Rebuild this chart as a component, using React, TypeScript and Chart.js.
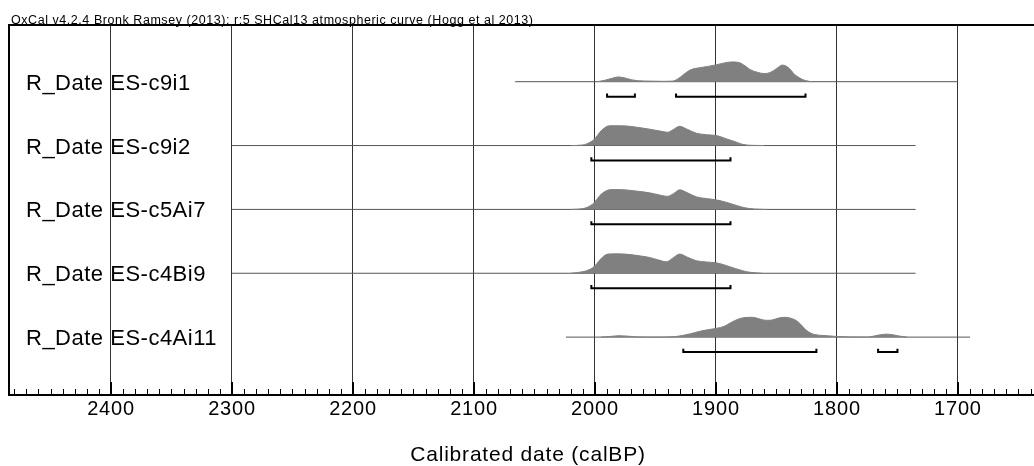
import React, { useEffect, useRef } from 'react';
import { Chart, registerables } from 'chart.js';

Chart.register(...registerables);

const CHART_TITLE = 'OxCal v4.2.4 Bronk Ramsey (2013); r:5 SHCal13 atmospheric curve (Hogg et al 2013)';
const AXIS_TITLE = 'Calibrated date (calBP)';
const SAMPLES = ['R_Date ES-c9i1', 'R_Date ES-c9i2', 'R_Date ES-c5Ai7', 'R_Date ES-c4Bi9', 'R_Date ES-c4Ai11'];
const X_TICKS = [2400, 2300, 2200, 2100, 2000, 1900, 1800, 1700];
const X_MIN = 1626.4;
const X_MAX = 2484.3;

// span of each likelihood baseline (calBP, from -> to)
const SPAN_C9I1 = [2066, 1700];
const SPAN_C9I2 = [2300, 1735];
const SPAN_C5AI7 = [2300, 1735];
const SPAN_C4BI9 = [2300, 1735];
const SPAN_C4AI11 = [2024, 1690];

// relative probability distributions
const DATES_C9I1 = [1998, 1992, 1986, 1981, 1976, 1970, 1964, 1955, 1945, 1936, 1932, 1927, 1921, 1914, 1907, 1900, 1893, 1887, 1881, 1876, 1872, 1866, 1860, 1855, 1850, 1845, 1841, 1838, 1835, 1831, 1828, 1824, 1820];
const PROB_C9I1 = [0, 0.07, 0.17, 0.24, 0.2, 0.1, 0.05, 0.03, 0.02, 0.03, 0.12, 0.35, 0.6, 0.7, 0.77, 0.85, 0.95, 1.0, 0.97, 0.8, 0.62, 0.48, 0.41, 0.47, 0.66, 0.84, 0.75, 0.58, 0.36, 0.2, 0.1, 0.03, 0];

const DATES_C9I2 = [2020, 2010, 2004, 2000, 1996, 1992, 1988, 1980, 1974, 1965, 1955, 1946, 1940, 1936, 1930, 1924, 1916, 1908, 1899, 1891, 1883, 1878, 1870, 1860];
const PROB_C9I2 = [0, 0.03, 0.17, 0.35, 0.67, 0.9, 1.0, 1.0, 0.99, 0.92, 0.83, 0.73, 0.67, 0.78, 0.97, 0.83, 0.62, 0.55, 0.5, 0.33, 0.17, 0.06, 0.01, 0];

const DATES_C5AI7 = [2020, 2010, 2004, 2000, 1996, 1991, 1987, 1979, 1972, 1962, 1955, 1946, 1940, 1935, 1930, 1924, 1916, 1908, 1899, 1891, 1883, 1876, 1868, 1858];
const PROB_C5AI7 = [0, 0.04, 0.18, 0.38, 0.7, 0.93, 1.0, 1.0, 0.97, 0.9, 0.84, 0.72, 0.66, 0.8, 0.99, 0.85, 0.63, 0.55, 0.47, 0.35, 0.2, 0.08, 0.02, 0];

const DATES_C4BI9 = [2020, 2010, 2004, 2000, 1994, 1989, 1980, 1969, 1962, 1955, 1948, 1941, 1936, 1930, 1924, 1916, 1908, 1899, 1891, 1884, 1878, 1872, 1862];
const PROB_C4BI9 = [0, 0.08, 0.2, 0.38, 0.8, 0.97, 0.98, 0.93, 0.87, 0.8, 0.68, 0.58, 0.75, 0.97, 0.82, 0.63, 0.57, 0.52, 0.38, 0.24, 0.13, 0.05, 0];

const DATES_C4AI11 = [1995, 1988, 1980, 1973, 1965, 1950, 1935, 1928, 1921, 1913, 1906, 1899, 1893, 1888, 1882, 1876, 1870, 1864, 1859, 1854, 1849, 1844, 1839, 1834, 1830, 1826, 1821, 1815, 1808, 1800, 1790, 1775, 1769, 1764, 1759, 1754, 1748, 1742];
const PROB_C4AI11 = [0, 0.03, 0.07, 0.05, 0.01, 0, 0.02, 0.08, 0.17, 0.3, 0.38, 0.45, 0.55, 0.72, 0.9, 0.99, 1.0, 0.92, 0.85, 0.86, 0.95, 1.0, 0.97, 0.85, 0.65, 0.38, 0.18, 0.1, 0.07, 0.03, 0.01, 0, 0.06, 0.12, 0.15, 0.12, 0.05, 0];

// 95.4% highest posterior density ranges (calBP)
const RANGES_C9I1 = [[1990, 1967], [1933, 1826]];
const RANGES_C9I2 = [[2003, 1888]];
const RANGES_C5AI7 = [[2003, 1888]];
const RANGES_C4BI9 = [[2003, 1888]];
const RANGES_C4AI11 = [[1927, 1817], [1766, 1750]];

const ROWS = [
  { span: SPAN_C9I1, dates: DATES_C9I1, prob: PROB_C9I1, ranges: RANGES_C9I1 },
  { span: SPAN_C9I2, dates: DATES_C9I2, prob: PROB_C9I2, ranges: RANGES_C9I2 },
  { span: SPAN_C5AI7, dates: DATES_C5AI7, prob: PROB_C5AI7, ranges: RANGES_C5AI7 },
  { span: SPAN_C4BI9, dates: DATES_C4BI9, prob: PROB_C4BI9, ranges: RANGES_C4BI9 },
  { span: SPAN_C4AI11, dates: DATES_C4AI11, prob: PROB_C4AI11, ranges: RANGES_C4AI11 },
];

// vertical layout in row units
const Y_MIN = -0.888;
const Y_MAX = 4.9065;
const PEAK_H = 0.31;
const RANGE_OFF = 0.234;
const RANGE_TICK = 0.05;
// the plot frame continues past the right edge of the picture
const RIGHT_OVERHANG = 14;

const FONT = '"Liberation Sans", Arial, Helvetica, sans-serif';

const decorPlugin = {
  id: 'oxcalDecor',
  afterLayout(chart: any) {
    const x = chart.scales.x;
    x.right += RIGHT_OVERHANG;
    x.width += RIGHT_OVERHANG;
    chart.chartArea.right += RIGHT_OVERHANG;
    chart.chartArea.width += RIGHT_OVERHANG;
    x.configure();
    x._labelItems = null;
    x._gridLineItems = null;
  },
  beforeDraw(chart: any) {
    (chart.ctx as any).letterSpacing = '0.8px';
  },
  afterDatasetsDraw(chart: any) {
    const { ctx, chartArea, scales } = chart;
    const { left, right, top, bottom } = chartArea;
    const x = scales.x;
    const y = scales.y;
    ctx.save();
    ctx.strokeStyle = '#000';
    for (let v = Math.ceil(X_MIN / 10) * 10; v <= X_MAX; v += 10) {
      const major = v % 100 === 0;
      const px = Math.round(x.getPixelForValue(v)) + (major ? 0 : 0.5);
      ctx.lineWidth = major ? 2 : 1;
      ctx.beginPath();
      ctx.moveTo(px, bottom);
      ctx.lineTo(px, bottom - (major ? 13 : 6));
      ctx.stroke();
    }
    ctx.lineWidth = 2;
    ctx.strokeRect(left, top, right - left, bottom - top);
    ctx.fillStyle = '#000';
    ctx.textAlign = 'left';
    ctx.textBaseline = 'alphabetic';
    (ctx as any).letterSpacing = '0.5px';
    ctx.font = '22px ' + FONT;
    SAMPLES.forEach((name, r) => {
      ctx.fillText(name, left + 17, y.getPixelForValue(r) + 8);
    });
    (ctx as any).letterSpacing = '0.55px';
    ctx.font = '12.5px ' + FONT;
    ctx.fillText(CHART_TITLE, left + 2, top - 1.5);
    ctx.restore();
  },
  afterDraw(chart: any) {
    (chart.ctx as any).letterSpacing = '0px';
  },
};

function buildDatasets() {
  const ranges: any[] = [];
  const curves: any[] = [];
  const bases: any[] = [];
  ROWS.forEach((row, r) => {
    row.ranges.forEach(([a, b]) => {
      const yb = r + RANGE_OFF;
      ranges.push({
        data: [
          { x: a, y: yb - RANGE_TICK },
          { x: a, y: yb },
          { x: b, y: yb },
          { x: b, y: yb - RANGE_TICK },
        ],
        borderColor: '#000',
        borderWidth: 2,
        pointRadius: 0,
        fill: false,
        tension: 0,
      });
    });
    curves.push({
      data: row.dates.map((d, i) => ({ x: d, y: r - row.prob[i] * PEAK_H })),
      borderColor: '#808080',
      backgroundColor: '#808080',
      borderWidth: 1,
      pointRadius: 0,
      fill: { value: r },
      cubicInterpolationMode: 'monotone',
    });
    bases.push({
      data: [
        { x: row.span[0], y: r },
        { x: row.span[1], y: r },
      ],
      borderColor: '#555',
      borderWidth: 1,
      pointRadius: 0,
      fill: false,
    });
  });
  return [...ranges, ...curves, ...bases];
}

export default function App() {
  const ref = useRef<HTMLCanvasElement>(null);
  useEffect(() => {
    document.body.style.margin = '0';
    Chart.defaults.font.family = FONT;
    const chart = new Chart(ref.current as HTMLCanvasElement, {
      type: 'line',
      data: { datasets: buildDatasets() },
      options: {
        animation: false,
        responsive: false,
        devicePixelRatio: 1,
        layout: { padding: { left: 9, right: 1, top: 25, bottom: 0 } },
        plugins: {
          legend: { display: false },
          tooltip: { enabled: false },
          title: { display: false },
        },
        scales: {
          x: {
            type: 'linear',
            reverse: true,
            min: X_MIN,
            max: X_MAX,
            afterBuildTicks: (s: any) => {
              s.ticks = X_TICKS.map((v) => ({ value: v }));
            },
            ticks: {
              color: '#000',
              font: { size: 20 },
              padding: 2,
              maxRotation: 0,
              autoSkip: false,
              callback: (v: any) => String(v),
            },
            grid: { color: '#333', lineWidth: 1, drawTicks: false },
            border: { display: false },
            title: {
              display: true,
              text: AXIS_TITLE,
              color: '#000',
              font: { size: 21, lineHeight: 1 },
              padding: { top: 22, bottom: 0 },
            },
          },
          y: {
            type: 'linear',
            display: false,
            min: Y_MIN,
            max: Y_MAX,
            reverse: true,
          },
        },
      } as any,
      plugins: [decorPlugin],
    });
    return () => chart.destroy();
  }, []);
  return (
    <div style={{ position: 'absolute', left: 0, top: 0, width: 1034, height: 466, background: '#fff' }}>
      <canvas ref={ref} width={1034} height={466} style={{ display: 'block' }} />
    </div>
  );
}
